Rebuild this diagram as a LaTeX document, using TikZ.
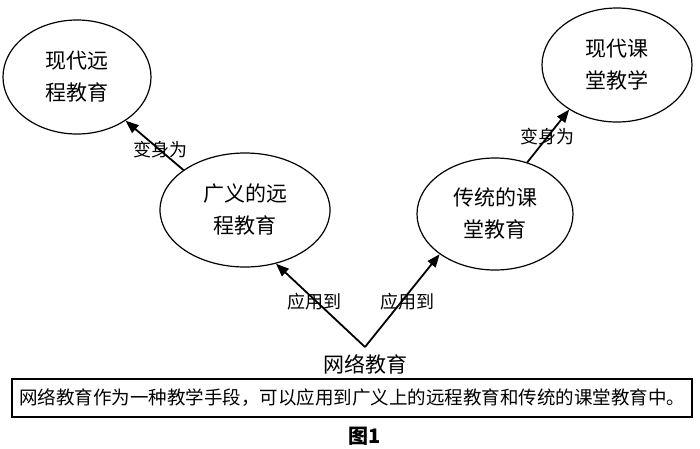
\documentclass[tikz,border=0pt]{standalone}
\usepackage{fontspec}
\usepackage{tikz}
\usetikzlibrary{shapes.geometric,arrows.meta}
\setmainfont{Noto Sans CJK SC}

\tikzset{
	oval/.style={draw,ellipse,line width=1.2pt,inner sep=0pt,align=center,
		font=\fontsize{21}{32}\selectfont},
	jump/.style={line width=1.8pt,-{Triangle[length=13pt,width=10pt]}},
	tag/.style={font=\fontsize{18}{20}\selectfont,inner sep=0pt}
}

\begin{document}
\begin{tikzpicture}[x=1pt,y=-1pt]
			\useasboundingbox (0,0) rectangle (700,448);
			\node[oval,minimum width=148pt,minimum height=114pt] (xdyc) at (77,77) {现代远\\程教育};
			\node[oval,minimum width=150pt,minimum height=114pt] (xdkt) at (617,65) {现代课\\堂教学};
			\node[oval,minimum width=170pt,minimum height=114pt] (gyyc) at (245,210) {广义的远\\程教育};
			\node[oval,minimum width=156pt,minimum height=112pt] (ctkt) at (495,214) {传统的课\\堂教育};
			\node[font=\fontsize{21}{24}\selectfont,inner sep=0pt] (wljy) at (365,364) {网络教育};
			\coordinate (apex) at (365,347);
			\draw[jump] (apex) -- (gyyc.-60);
			\draw[jump] (apex) -- (ctkt.-144);
			\draw[jump] (gyyc.147) -- (xdyc.-42);
			\draw[jump] (ctkt.58) -- (xdkt.-137);
			\node[tag] (bs1) at (160,150) {变身为};
			\node[tag] (bs2) at (547,137) {变身为};
			\node[tag] (yy1) at (314,302) {应用到};
			\node[tag] (yy2) at (407,302) {应用到};
			\node[draw,line width=1.4pt,minimum width=680pt,minimum height=38pt,inner sep=0pt,
				font=\fontsize{18.5}{20}\selectfont] (note) at (352,398)
				{网络教育作为一种教学手段，可以应用到广义上的远程教育和传统的课堂教育中。};
			\node[font=\bfseries\fontsize{20}{22}\selectfont,inner sep=0pt] (fig) at (365,436) {图1};
		\end{tikzpicture}
\end{document}
